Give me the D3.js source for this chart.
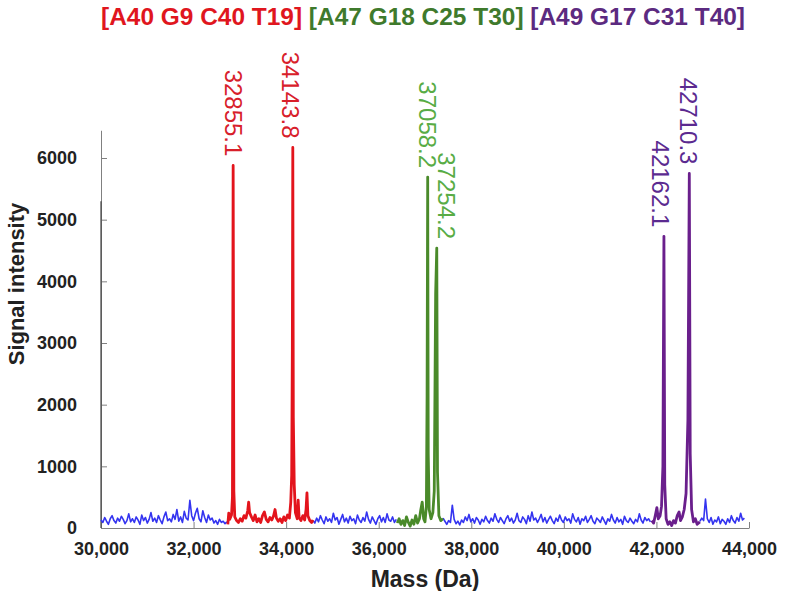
<!DOCTYPE html>
<html><head><meta charset="utf-8">
<script src="https://cdn.jsdelivr.net/npm/d3@7"></script>
<style>body{margin:0;background:#fff}</style>
</head><body><svg id="c" width="788" height="591"></svg>
<script>
// ---------- data ----------
const xTicks = [30000, 32000, 34000, 36000, 38000, 40000, 42000, 44000];
const yTicks = [0, 1000, 2000, 3000, 4000, 5000, 6000];
const titleParts = ["[A40 G9 C40 T19]", "[A47 G18 C25 T30]", "[A49 G17 C31 T40]"];
const peakMasses = [32855.1, 34143.8, 37058.2, 37254.2, 42162.1, 42710.3];
const peakHeights = [5880, 6170, 5690, 4540, 4730, 5750];
const peakLabels = ["32855.1", "34143.8", "37058.2", "37254.2", "42162.1", "42710.3"];
const peakGroup = [0, 0, 1, 1, 2, 2];

const edgeSpikeMass = 30000;
const edgeSpikeValue = 5300;

const blueStep = 40;
const blueStarts = [30000, 34580, 37390, 42940];
const blueA = [130, 90, 170, 110, 60, 150, 200, 120, 80, 160,
  110, 190, 140, 70, 120, 230, 100, 150, 90, 180,
  130, 60, 210, 120, 170, 80, 140, 250, 110, 160,
  90, 200, 130, 70, 180, 260, 120, 150, 100, 220,
  140, 300, 110, 180, 90, 270, 160, 130, 450, 200,
  120, 240, 320, 150, 100, 280, 170, 90, 210, 130,
  160, 80, 120, 60, 140, 90, 110, 70, 100];
const blueB = [120, 80, 160, 100, 200, 130, 70, 180, 110, 150,
  90, 240, 130, 170, 60, 140, 220, 100, 160, 80,
  190, 120, 150, 70, 210, 130, 90, 170, 110, 260,
  140, 80, 180, 120, 60, 150, 200, 100, 170, 90,
  230, 130, 110, 180, 90, 140];
const blueC = [160, 110, 60, 120, 90, 370, 140, 70, 110, 50,
  130, 90, 180, 120, 220, 100, 150, 80, 170, 130,
  60, 140, 100, 190, 120, 80, 160, 110, 230, 140,
  90, 170, 120, 70, 150, 200, 110, 160, 80, 130,
  240, 120, 90, 180, 140, 70, 200, 110, 260, 130,
  160, 90, 150, 220, 100, 170, 80, 140, 190, 120,
  70, 160, 110, 210, 130, 90, 180, 120, 150, 80,
  230, 140, 100, 170, 60, 150, 120, 190, 90, 140,
  200, 110, 70, 160, 130, 90, 180, 120, 60, 150,
  110, 220, 130, 80, 170, 100, 140, 60, 190, 120,
  90, 160, 110, 70, 140, 100, 230, 130, 80, 170,
  120, 150, 100];
const blueD = [110, 160, 120, 470, 150, 90, 170, 60, 130, 100,
  180, 70, 140, 110, 60, 150, 90, 200, 120, 80,
  170, 110, 240, 130, 160];

const redMass = [32740, 32760, 32780, 32820, 32840, 32855.1, 32870, 32890, 32930, 32970, 33010, 33050, 33090, 33130,
  33170, 33190, 33210, 33250, 33290, 33330, 33370, 33410, 33450, 33490, 33530, 33570, 33610, 33650,
  33690, 33730, 33760, 33790, 33830, 33870, 33910, 33950, 33990, 34030, 34070, 34100, 34120, 34134,
  34143.8, 34155, 34175, 34200, 34240, 34260, 34280, 34320, 34360, 34400, 34430, 34450, 34470, 34510, 34550, 34580];
const redInt = [60, 240, 140, 210, 500, 5880, 600, 180, 120, 90, 150, 110, 200, 160,
  280, 420, 250, 180, 120, 210, 100, 150, 90, 200, 260, 140, 100, 170,
  130, 200, 300, 160, 110, 150, 90, 180, 120, 210, 160, 420, 860, 2900,
  6170, 1800, 700, 250, 150, 450, 170, 120, 200, 130, 300, 570, 200, 120, 90, 130];

const greenMass = [36400, 36440, 36480, 36520, 36560, 36600, 36640, 36680, 36720, 36760, 36800, 36840, 36880,
  36910, 36940, 36970, 37000, 37030, 37045, 37058.2, 37070, 37090, 37130, 37170, 37200, 37230, 37254.2,
  37270, 37300, 37340, 37390];
const greenInt = [80, 150, 60, 120, 40, 180, 90, 30, 130, 60, 200, 80, 150,
  300, 420, 150, 100, 350, 2150, 5690, 1200, 300, 150, 250, 600, 3800, 4540,
  900, 200, 120, 150];

const purpleMass = [41900, 41940, 41980, 42010, 42040, 42080, 42110, 42140, 42162.1, 42180, 42210, 42250, 42290,
  42330, 42370, 42410, 42450, 42490, 42520, 42560, 42600, 42640, 42680, 42710.3, 42730, 42760, 42800,
  42840, 42880, 42940];
const purpleInt = [120, 80, 220, 330, 150, 200, 350, 1000, 4730, 700, 150, 60, 100,
  40, 120, 80, 200, 260, 120, 180, 300, 560, 1750, 5750, 1200, 300, 100,
  150, 60, 100];

// ---------- styles ----------
const FONT = "'Liberation Sans', Arial, Helvetica, sans-serif";
const traceColors = ["#e3141c", "#4a8a2a", "#6a1f8c"];
const labelColors = ["#d8202a", "#58ac45", "#5b2a90"];
const titleColors = ["#e0161e", "#3f7a2c", "#5c2a80"];
const blueColor = "#3434f0";
const axisColor = "#808080";
const labelDx = [0, -2, 0, 10, -3, -1];

const svg = d3.select("#c");
const x = d3.scaleLinear().domain([30000, 44000]).range([101, 749]);
const y = d3.scaleLinear().domain([0, 6450]).range([528, 130.25]);

// title
const title = svg.append("text").attr("x", 101).attr("y", 25)
  .attr("font-family", FONT).attr("font-weight", "bold").attr("font-size", 24)
  .attr("textLength", 644).attr("lengthAdjust", "spacingAndGlyphs");
titleParts.forEach((t, i) => {
  title.append("tspan").attr("fill", titleColors[i]).text((i ? " " : "") + t);
});

// axes
const xAxis = d3.axisBottom(x).tickValues(xTicks).tickSizeInner(-6).tickSizeOuter(0)
  .tickFormat(d3.format(","));
const gx = svg.append("g").attr("transform", "translate(0,528)").call(xAxis);
gx.selectAll("path, line").attr("stroke", axisColor);
gx.selectAll("text").attr("font-family", FONT).attr("font-weight", "bold").attr("font-size", 18)
  .attr("fill", "#222").attr("y", 14).attr("dy", "0.71em");

const yAxis = d3.axisLeft(y).tickValues(yTicks).tickSizeInner(-6).tickSizeOuter(0)
  .tickFormat(d3.format("d"));
const gy = svg.append("g").attr("transform", "translate(101,0)").call(yAxis);
gy.selectAll("path, line").attr("stroke", axisColor);
gy.selectAll("text").attr("font-family", FONT).attr("font-weight", "bold").attr("font-size", 18)
  .attr("fill", "#222").attr("x", -24);

// edge spike at low-mass limit
svg.append("line").attr("x1", x(edgeSpikeMass)).attr("x2", x(edgeSpikeMass))
  .attr("y1", y(0)).attr("y2", y(edgeSpikeValue)).attr("stroke", "#444").attr("stroke-width", 1.2);

const line = d3.line().x(d => x(d[0])).y(d => y(d[1]));

// blue noise
[blueA, blueB, blueC, blueD].forEach((arr, k) => {
  const pts = arr.map((v, i) => [blueStarts[k] + i * blueStep, v]);
  svg.append("path").attr("d", line(pts)).attr("fill", "none")
    .attr("stroke", blueColor).attr("stroke-width", 1.6).attr("stroke-linejoin", "round");
});

// coloured segments
[[redMass, redInt], [greenMass, greenInt], [purpleMass, purpleInt]].forEach(([m, v], k) => {
  const pts = m.map((mm, i) => [mm, v[i]]);
  svg.append("path").attr("d", line(pts)).attr("fill", "none")
    .attr("stroke", traceColors[k]).attr("stroke-width", 2.8).attr("stroke-linejoin", "round");
});

// peak labels
peakMasses.forEach((m, i) => {
  svg.append("text")
    .attr("transform", `translate(${x(m) + labelDx[i]},${y(peakHeights[i]) - 9}) rotate(90)`)
    .attr("text-anchor", "end").attr("dy", "0.36em")
    .attr("font-family", FONT).attr("font-size", 24)
    .attr("fill", labelColors[peakGroup[i]]).text(peakLabels[i]);
});

// axis titles
svg.append("text").attr("x", 425).attr("y", 587).attr("text-anchor", "middle")
  .attr("font-family", FONT).attr("font-weight", "bold").attr("font-size", 23).attr("fill", "#222")
  .text("Mass (Da)");
svg.append("text").attr("transform", "translate(24,284) rotate(-90)").attr("text-anchor", "middle")
  .attr("font-family", FONT).attr("font-weight", "bold").attr("font-size", 22).attr("fill", "#222")
  .text("Signal intensity");
</script>
</body></html>
